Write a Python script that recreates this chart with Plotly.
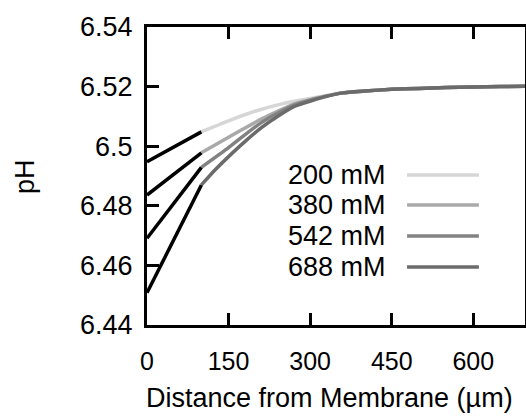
import plotly.graph_objects as go

# pH profiles near the membrane for four concentrations
concentrations = ["200 mM", "380 mM", "542 mM", "688 mM"]
curve_colors = ["#d6d6d6", "#a9a9a9", "#828282", "#6b6b6b"]

# black fitted segments close to the membrane (x in µm)
fit_x = [0, 100]
fit_ph = {
    "200 mM": [6.4948, 6.5048],
    "380 mM": [6.4836, 6.4978],
    "542 mM": [6.4691, 6.4929],
    "688 mM": [6.4508, 6.4870],
}

# measured profiles beyond 100 µm
tail_x = [360, 400, 450, 500, 550, 600, 650, 695]
tail_ph = [6.5179, 6.5185, 6.5191, 6.5194, 6.5197, 6.5199, 6.5200, 6.5201]

prof_x = {
    "200 mM": [100, 150, 200, 250, 300, 330],
    "380 mM": [100, 150, 181, 211, 242, 272, 330],
    "542 mM": [100, 150, 181, 211, 242, 272, 330],
    "688 mM": [100, 125, 150, 181, 211, 242, 272, 330],
}
prof_ph = {
    "200 mM": [6.5048, 6.5085, 6.5118, 6.5143, 6.5160, 6.5170],
    "380 mM": [6.4978, 6.5030, 6.5062, 6.5092, 6.5119, 6.5143, 6.5169],
    "542 mM": [6.4929, 6.4995, 6.5040, 6.5080, 6.5113, 6.5139, 6.5168],
    "688 mM": [6.4870, 6.4920, 6.4965, 6.5017, 6.5063, 6.5102, 6.5134, 6.5167],
}

x_ticks = [0, 150, 300, 450, 600]
y_ticks = [6.44, 6.46, 6.48, 6.5, 6.52, 6.54]
y_tick_text = ["6.44", "6.46", "6.48", "6.5", "6.52", "6.54"]

fig = go.Figure()

for name, col in zip(concentrations, curve_colors):
    fig.add_trace(go.Scatter(
        x=prof_x[name] + tail_x, y=prof_ph[name] + tail_ph,
        mode="lines", line=dict(color=col, width=3.5, shape="spline", smoothing=0.5),
        showlegend=False))

for name in concentrations:
    fig.add_trace(go.Scatter(
        x=fit_x, y=fit_ph[name], mode="lines",
        line=dict(color="black", width=3.5), showlegend=False))

# legend drawn by hand: label on the left, line on the right
leg_y = [0.503, 0.403, 0.299, 0.195]
for name, col, yy in zip(concentrations, curve_colors, leg_y):
    fig.add_annotation(x=0.638, y=yy, xref="paper", yref="paper", text=name,
                       showarrow=False, xanchor="right", yanchor="middle",
                       font=dict(size=27, color="black"))
    fig.add_shape(type="line", xref="paper", yref="paper",
                  x0=0.688, x1=0.878, y0=yy, y1=yy,
                  line=dict(color=col, width=3.5))

# axis titles
fig.add_annotation(x=0.484, y=-0.245, xref="paper", yref="paper",
                   text="Distance from Membrane (µm)", showarrow=False,
                   xanchor="center", yanchor="middle", font=dict(size=27, color="black"))
fig.add_annotation(x=-0.323, y=0.5, xref="paper", yref="paper", text="pH",
                   showarrow=False, textangle=-90, xanchor="center", yanchor="middle",
                   font=dict(size=27, color="black"))

fig.update_xaxes(range=[0, 695], tickvals=x_ticks, ticks="inside", ticklen=12,
                 tickwidth=3, tickcolor="black", showline=True, linewidth=3,
                 linecolor="black", mirror="ticks", showgrid=False, zeroline=False,
                 tickfont=dict(size=25, color="black"), ticklabelstandoff=12,
                 automargin=False)
fig.update_yaxes(range=[6.44, 6.54], tickvals=y_ticks, ticktext=y_tick_text,
                 ticks="inside", ticklen=12, tickwidth=3, tickcolor="black",
                 showline=True, linewidth=3, linecolor="black", mirror=True,
                 showgrid=False, zeroline=False,
                 tickfont=dict(size=27, color="black"), ticklabelstandoff=6,
                 automargin=False)

fig.update_layout(width=526, height=417, margin=dict(l=147, r=1, t=27, b=92),
                  plot_bgcolor="white", paper_bgcolor="white",
                  font=dict(family="Liberation Sans, Arial, sans-serif", color="black"))

# drop the browser's default page margin so the figure sits at the corner
fig.write_html("out.html", config={"displayModeBar": False},
               post_script="document.body.style.margin='0';")
